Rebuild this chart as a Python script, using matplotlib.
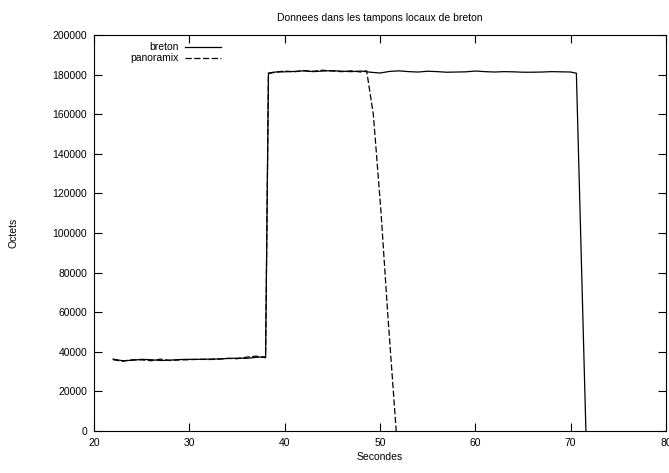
import matplotlib
matplotlib.use('Agg')
import matplotlib.pyplot as plt

plt.rcParams['font.family'] = ['Liberation Sans', 'DejaVu Sans']
plt.rcParams['font.size'] = 7.5

# secondes / octets
breton_t = [22, 23, 24, 25, 26, 27, 28, 29, 30, 31, 32, 33, 34, 35, 36, 37, 38,
            38.3, 39, 40, 41, 42, 43, 44, 45, 46, 47, 48, 49, 50, 51, 52, 53, 54,
            55, 56, 57, 58, 59, 60, 61, 62, 63, 64, 65, 66, 67, 68, 69, 70, 70.6,
            71.4, 71.6]
breton_o = [36300, 35500, 35700, 36200, 36000, 35600, 35800, 36100, 36200, 36200,
            36300, 36400, 36600, 36800, 36700, 37200, 37500,
            180800, 181300, 181400, 181600, 181900, 181500, 181800, 182000, 181700,
            181500, 181800, 181200, 180800, 181600, 181900, 181500, 181300, 181700,
            181500, 181200, 181300, 181400, 181800, 181500, 181300, 181500, 181400,
            181200, 181200, 181300, 181500, 181400, 181300, 180700,
            36000, 0]

panoramix_t = [22, 23, 24, 25, 26, 27, 28, 29, 30, 31, 32, 33, 34, 35, 36, 37, 38,
               38.3, 39, 40, 41, 42, 43, 44, 45, 46, 47, 48, 48.6, 49.3, 50.1,
               50.8, 51.7]
panoramix_o = [36000, 35200, 36000, 35900, 35500, 36300, 35600, 35900, 36000, 36200,
               36100, 36200, 36700, 36500, 37300, 37800, 37000,
               180500, 181200, 181800, 181400, 182000, 181700, 182200, 181800, 181500,
               181900, 181300, 181900, 160000, 111000, 60000, 0]

fig = plt.figure(figsize=(6.69, 4.73), dpi=100)
ax = fig.add_axes([0.1405, 0.0888, 0.855, 0.8372])

ax.plot(breton_t, breton_o, color='black', lw=0.9, label='breton')
ax.plot(panoramix_t, panoramix_o, color='black', lw=0.9, dashes=(5, 2),
        label='panoramix')

ax.set_xlim(20, 80)
ax.set_ylim(0, 200000)
ax.set_xticks(range(20, 81, 10))
ax.set_yticks(range(0, 200001, 20000))
ax.tick_params(direction='in', length=6, width=0.8, top=True, right=True, pad=5)
for s in ax.spines.values():
    s.set_linewidth(0.8)

ax.set_title('Donnees dans les tampons locaux de breton', fontsize=7.5, pad=10)
ax.set_xlabel('Secondes', labelpad=3)
ax.set_ylabel('Octets', labelpad=24)

ax.legend(loc='upper left', bbox_to_anchor=(0.047, 1.005), frameon=False,
          markerfirst=False, handlelength=3.5, handletextpad=0.6,
          labelspacing=0.1, fontsize=7.5)

fig.savefig('out.png', dpi=100)
